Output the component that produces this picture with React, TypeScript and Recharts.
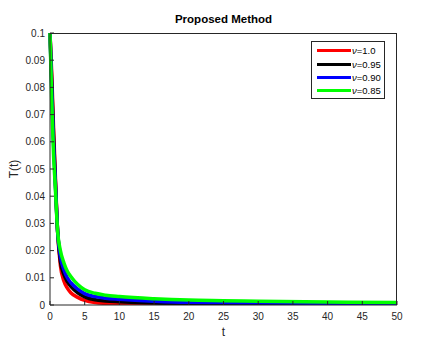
import React from "react";
import { LineChart, Line, XAxis, YAxis } from "recharts";

const tValues = [0, 0.25, 0.5, 0.75, 1.1, 1.5, 2, 2.5, 3, 4, 5, 6.5, 8, 10, 15, 20, 25, 30, 40, 50];
const nu100 = [0.1, 0.085, 0.066, 0.049, 0.027, 0.0145, 0.0088, 0.0062, 0.0045, 0.0028, 0.0017, 0.0009, 0.0006, 0.0004, 0.0002, 0.0001, 0.0001, 0.0001, 0.0001, 0.0001];
const nu095 = [0.1, 0.082, 0.063, 0.047, 0.027, 0.016, 0.0112, 0.0086, 0.0068, 0.0045, 0.003, 0.0019, 0.0015, 0.0012, 0.0007, 0.0005, 0.0004, 0.0003, 0.0003, 0.0002];
const nu090 = [0.1, 0.079, 0.06, 0.046, 0.027, 0.0178, 0.013, 0.01, 0.0082, 0.0058, 0.0042, 0.0031, 0.0025, 0.0021, 0.0014, 0.001, 0.0009, 0.0008, 0.0006, 0.0005];
const nu085 = [0.1, 0.075, 0.056, 0.044, 0.027, 0.02, 0.0155, 0.0124, 0.0105, 0.0075, 0.0056, 0.0043, 0.0036, 0.0031, 0.0023, 0.0018, 0.0016, 0.0014, 0.0011, 0.0009];

const xTicks = [0, 5, 10, 15, 20, 25, 30, 35, 40, 45, 50];
const yTicks = [0, 0.01, 0.02, 0.03, 0.04, 0.05, 0.06, 0.07, 0.08, 0.09, 0.1];
const yTickLabels = ["0", "0.01", "0.02", "0.03", "0.04", "0.05", "0.06", "0.07", "0.08", "0.09", "0.1"];

const series = [
  { key: "a", label: "=1.0", color: "#ff0000", values: nu100 },
  { key: "b", label: "=0.95", color: "#000000", values: nu095 },
  { key: "c", label: "=0.90", color: "#0000ff", values: nu090 },
  { key: "d", label: "=0.85", color: "#00ff00", values: nu085 },
];

const data = tValues.map((t, i) => {
  const row: Record<string, number> = { t };
  series.forEach((s) => {
    row[s.key] = s.values[i];
  });
  return row;
});

const AX = "#262626";
const FONT = "'Liberation Sans', Arial, sans-serif";

const LegendBox = () => (
  <div
    style={{
      position: "absolute",
      left: 311,
      top: 41,
      width: 74,
      height: 58,
      border: `1px solid ${AX}`,
      background: "#fff",
      boxSizing: "border-box",
      paddingTop: 2,
      fontFamily: FONT,
      fontSize: 9.5,
      color: "#000",
    }}
  >
    {series.map((s) => (
      <div key={s.key} style={{ display: "flex", alignItems: "center", height: 13.4 }}>
        <div style={{ width: 34, height: 3, background: s.color, marginLeft: 5, marginRight: 1 }} />
        <span>
          <i>ν</i>
          {s.label}
        </span>
      </div>
    ))}
  </div>
);

const NoTick = () => <g />;

export default function App() {
  return (
    <div style={{ position: "absolute", left: 0, top: 0, width: 426, height: 343, background: "#fff" }}>
      <LineChart
        width={426}
        height={343}
        data={data}
        margin={{ top: 33, right: 29, bottom: 0, left: 0 }}
        style={{ fontFamily: FONT }}
      >
        <XAxis
          dataKey="t"
          type="number"
          domain={[0, 50]}
          ticks={xTicks}
          height={38}
          stroke={AX}
          tickSize={-4}
          tickMargin={12}
          tick={{ fill: AX, fontSize: 10 }}
          interval={0}
        />
        <XAxis
          xAxisId="top"
          orientation="top"
          type="number"
          domain={[0, 50]}
          ticks={xTicks}
          height={0}
          stroke={AX}
          tickSize={-4}
          tick={NoTick}
          interval={0}
        />
        <YAxis
          type="number"
          domain={[0, 0.1]}
          ticks={yTicks}
          width={50}
          stroke={AX}
          tickSize={-4}
          tickMargin={9}
          interval={0}
          allowDataOverflow
          tick={{ fill: AX, fontSize: 10 }}
          tickFormatter={(v: number) => yTickLabels[yTicks.indexOf(v)] ?? String(v)}
        />
        <YAxis
          yAxisId="right"
          orientation="right"
          type="number"
          domain={[0, 0.1]}
          ticks={yTicks}
          width={0}
          stroke={AX}
          tickSize={-4}
          tick={NoTick}
          interval={0}
        />
        {series.map((s) => (
          <Line
            key={s.key}
            dataKey={s.key}
            type="monotone"
            stroke={s.color}
            strokeWidth={3.5}
            dot={false}
            isAnimationActive={false}
          />
        ))}
      </LineChart>
      <div
        style={{
          position: "absolute",
          left: 50,
          top: 33,
          width: 347,
          height: 272,
          borderTop: `1px solid ${AX}`,
          borderRight: `1px solid ${AX}`,
          boxSizing: "border-box",
          pointerEvents: "none",
        }}
      />
      <LegendBox />
      <div
        style={{
          position: "absolute",
          left: 50,
          width: 347,
          top: 13,
          textAlign: "center",
          fontFamily: FONT,
          fontWeight: "bold",
          fontSize: 11.5,
          color: "#000",
        }}
      >
        Proposed Method
      </div>
      <div
        style={{
          position: "absolute",
          left: 50,
          width: 347,
          top: 325,
          textAlign: "center",
          fontFamily: FONT,
          fontSize: 12,
          color: AX,
        }}
      >
        t
      </div>
      <div
        style={{
          position: "absolute",
          left: 14,
          top: 169,
          transform: "translate(-50%, -50%) rotate(-90deg)",
          fontFamily: FONT,
          fontSize: 12,
          color: AX,
          whiteSpace: "nowrap",
        }}
      >
        T(t)
      </div>
    </div>
  );
}
